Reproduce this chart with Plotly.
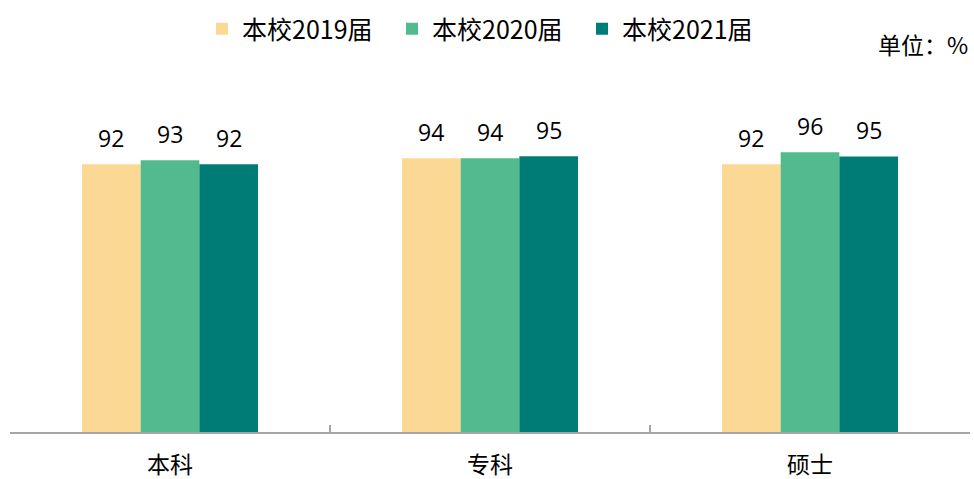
import plotly.graph_objects as go

categories = ["本科", "专科", "硕士"]
series_names = ["本校2019届", "本校2020届", "本校2021届"]
values_2019 = [92.0, 94.1, 92.0]
values_2020 = [93.4, 94.1, 96.1]
values_2021 = [92.0, 94.8, 94.7]
colors = ["#FBD894", "#53BA8D", "#007C77"]

all_values = [values_2019, values_2020, values_2021]
BODY_FONT = "Open Sans, Noto Sans CJK SC"
CJK_FONT = "Noto Sans CJK SC"

W, H = 974, 479
T, B = 141, 47
plot_h = H - T - B

fig = go.Figure()
for name, vals, col in zip(series_names, all_values, colors):
    fig.add_trace(go.Bar(
        name=name, x=categories, y=vals, marker=dict(color=col, line=dict(width=0)),
    ))

bargap = 0.45
n = len(series_names)
bw = (1 - bargap) / n
for j, vals in enumerate(all_values):
    for i, v in enumerate(vals):
        fig.add_annotation(
            x=i + (j - (n - 1) / 2) * bw, y=v, xref="x", yref="y",
            text=f"{v:.0f}", showarrow=False, yanchor="middle", yshift=26,
            font=dict(family=BODY_FONT, size=23, color="#000000"),
        )

fig.add_annotation(
    text="单位：%", xref="paper", yref="paper", x=1, xanchor="right",
    y=(H - B - 44) / plot_h, yanchor="middle", showarrow=False,
    font=dict(family=CJK_FONT, size=23, color="#000000"),
)

fig.update_layout(
    width=W, height=H,
    margin=dict(l=10, r=4, t=T, b=B, autoexpand=False),
    plot_bgcolor="white", paper_bgcolor="white",
    barmode="group", bargap=bargap, bargroupgap=0,
    showlegend=True,
    legend=dict(
        orientation="h", xref="container", yref="container",
        x=202 / W, xanchor="left", y=1 - 29 / H, yanchor="middle",
        font=dict(family=CJK_FONT, size=25, color="#000000"),
        entrywidth=145, itemsizing="constant", traceorder="normal",
    ),
    xaxis=dict(
        type="category", showline=True, linecolor="#A6A6A6", linewidth=1.5,
        ticks="inside", tickson="boundaries", ticklen=7, tickcolor="#A6A6A6",
        tickwidth=1.5, showgrid=False, ticklabelstandoff=12, automargin=False,
        tickfont=dict(family=CJK_FONT, size=23, color="#000000"),
    ),
    yaxis=dict(range=[0, 100], visible=False, showgrid=False, zeroline=False,
               automargin=False),
)

fig.write_html("out.html", config={"displayModeBar": False},
               post_script="document.body.style.margin='0';")
